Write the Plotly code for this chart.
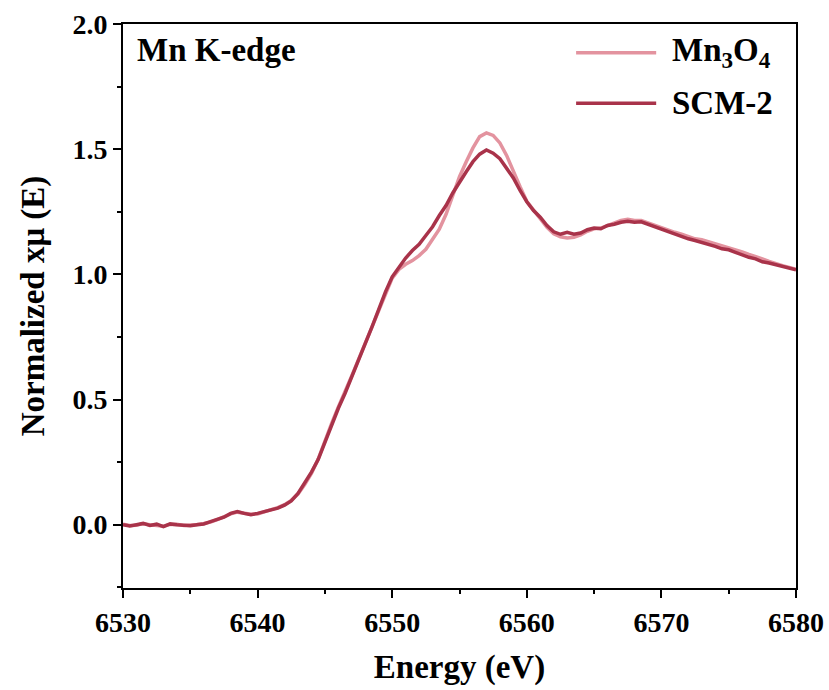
import plotly.graph_objects as go

energy = [6530 + 0.5 * i for i in range(101)]

scm2 = [
    0.000, -0.005, 0.000, 0.005, -0.003, 0.002, -0.008, 0.003, 0.000, -0.002,
    -0.004, 0.000, 0.003, 0.012, 0.022, 0.030, 0.045, 0.052, 0.045, 0.040,
    0.045, 0.052, 0.058, 0.066, 0.078, 0.095, 0.125, 0.165, 0.210, 0.260,
    0.330, 0.400, 0.465, 0.525, 0.590, 0.655, 0.720, 0.790, 0.860, 0.930,
    0.990, 1.030, 1.065, 1.095, 1.120, 1.155, 1.190, 1.235, 1.275, 1.325,
    1.370, 1.410, 1.450, 1.480, 1.497, 1.484, 1.462, 1.425, 1.385, 1.335,
    1.290, 1.255, 1.228, 1.195, 1.170, 1.160, 1.168, 1.160, 1.165, 1.178,
    1.185, 1.182, 1.195, 1.200, 1.208, 1.212, 1.208, 1.210, 1.200, 1.190,
    1.182, 1.172, 1.160, 1.150, 1.142, 1.135, 1.128, 1.118, 1.112, 1.102,
    1.098, 1.088, 1.078, 1.068, 1.062, 1.050, 1.045, 1.038, 1.030, 1.025,
    1.018,
]

mn3o4 = [
    0.002, -0.003, -0.002, 0.004, 0.000, -0.002, -0.006, 0.001, 0.002, -0.003,
    -0.002, 0.001, 0.005, 0.010, 0.020, 0.032, 0.043, 0.050, 0.047, 0.042,
    0.043, 0.050, 0.060, 0.068, 0.080, 0.097, 0.122, 0.160, 0.205, 0.262,
    0.335, 0.405, 0.470, 0.530, 0.595, 0.660, 0.725, 0.793, 0.862, 0.928,
    0.985, 1.020, 1.040, 1.055, 1.075, 1.100, 1.140, 1.180, 1.240, 1.320,
    1.390, 1.450, 1.505, 1.550, 1.565, 1.555, 1.525, 1.475, 1.410, 1.350,
    1.292, 1.255, 1.222, 1.188, 1.162, 1.150, 1.145, 1.148, 1.158, 1.172,
    1.182, 1.185, 1.195, 1.205, 1.215, 1.220, 1.215, 1.215, 1.205, 1.195,
    1.185, 1.178, 1.168, 1.160, 1.150, 1.142, 1.138, 1.130, 1.122, 1.115,
    1.108, 1.100, 1.090, 1.080, 1.072, 1.062, 1.052, 1.042, 1.035, 1.028,
    1.020,
]

x_ticks = [6530, 6540, 6550, 6560, 6570, 6580]
y_ticks = [0.0, 0.5, 1.0, 1.5, 2.0]

light = "#E3939F"
dark = "#A9334A"
font_family = "Times New Roman, Liberation Serif, DejaVu Serif, serif"

fig = go.Figure()
fig.add_trace(go.Scatter(x=energy, y=mn3o4, mode="lines", name="Mn<sub>3</sub>O<sub>4</sub>",
                         line=dict(color=light, width=3.5), showlegend=False))
fig.add_trace(go.Scatter(x=energy, y=scm2, mode="lines", name="SCM-2",
                         line=dict(color=dark, width=3.5), showlegend=False))

# manual legend (long line samples like the original)
legend_items = [("<b>Mn<sub>3</sub>O<sub>4</sub></b>", light, 52.7), ("<b>SCM-2</b>", dark, 103.3)]
for label, col, ypx in legend_items:
    fig.add_shape(type="line", xref="paper", yref="paper",
                  x0=(576 - 123.3) / 672.4, x1=(656 - 123.3) / 672.4,
                  y0=(588.3 - ypx) / 564.3, y1=(588.3 - ypx) / 564.3,
                  line=dict(color=col, width=3.5))
    fig.add_annotation(text=label, xref="paper", yref="paper",
                       x=(670 - 123.3) / 672.4, y=(588.3 - ypx) / 564.3,
                       xanchor="left", yanchor="middle", showarrow=False,
                       font=dict(family=font_family, size=33, color="black"))

fig.add_annotation(text="<b>Mn K-edge</b>", xref="paper", yref="paper",
                   x=(135 - 123.3) / 672.4, y=(588.3 - 50) / 564.3,
                   xanchor="left", yanchor="middle", showarrow=False,
                   font=dict(family=font_family, size=33, color="black"))

axis_common = dict(
    showline=True, linecolor="black", linewidth=2, mirror=True,
    ticks="outside", ticklen=8, tickwidth=2, tickcolor="black",
    showgrid=False, zeroline=False, automargin=False,
    tickfont=dict(family=font_family, size=28, color="black"),
)

fig.update_xaxes(
    range=[6530, 6580], tickvals=x_ticks, ticktext=[f"<b>{v}</b>" for v in x_ticks],
    minor=dict(ticks="outside", ticklen=4, tickwidth=2, tickcolor="black", dtick=5),
    title=dict(text="<b>Energy (eV)</b>", font=dict(family=font_family, size=33, color="black"), standoff=18),
    **axis_common,
)
fig.update_yaxes(
    range=[-0.253, 2.0], tickvals=y_ticks, ticktext=[f"<b>{v:.1f}</b>" for v in y_ticks],
    minor=dict(ticks="outside", ticklen=4, tickwidth=2, tickcolor="black", dtick=0.25, tick0=0),
    title=dict(text="<b>Normalized xμ (E)</b>", font=dict(family=font_family, size=33, color="black"), standoff=18),
    **axis_common,
)

fig.update_layout(
    width=829, height=690,
    margin=dict(l=123, r=33, t=24, b=102),
    plot_bgcolor="white", paper_bgcolor="white",
    font=dict(family=font_family, color="black"),
)

fig.write_html("out.html")
